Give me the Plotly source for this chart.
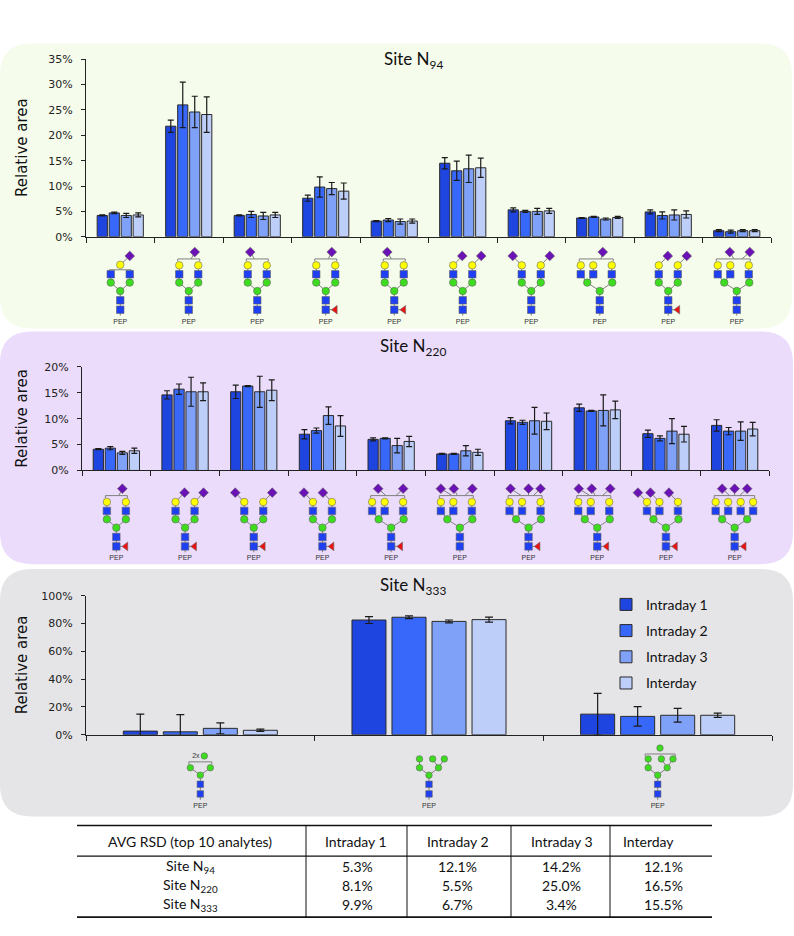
import plotly.graph_objects as go

W, H = 794, 936


def px(x):
    return x / W


def py(y):
    return 1 - y / H


SERIES = ["Intraday 1", "Intraday 2", "Intraday 3", "Interday"]
COLORS = ["#1f45e0", "#3868fa", "#7fa1f7", "#bdcff9"]

# ---- Site N94 (relative area %, mean and SD) ----
n94_i1 = [4.2, 21.8, 4.2, 7.6, 3.1, 14.5, 5.3, 3.7, 4.9, 1.2]
n94_i2 = [4.7, 26.0, 4.4, 9.8, 3.3, 13.0, 5.0, 3.9, 4.2, 1.0]
n94_i3 = [4.2, 24.6, 4.1, 9.5, 3.0, 13.4, 5.0, 3.5, 4.3, 1.2]
n94_inter = [4.3, 24.1, 4.3, 9.0, 3.1, 13.6, 5.1, 3.8, 4.4, 1.2]
n94_i1_sd = [0.1, 1.2, 0.1, 0.6, 0.1, 1.1, 0.4, 0.1, 0.4, 0.2]
n94_i2_sd = [0.15, 4.5, 0.6, 2.0, 0.3, 1.9, 0.2, 0.1, 0.7, 0.3]
n94_i3_sd = [0.4, 3.1, 0.7, 1.2, 0.5, 2.7, 0.6, 0.2, 1.0, 0.2]
n94_inter_sd = [0.4, 3.5, 0.5, 1.6, 0.4, 1.9, 0.5, 0.2, 0.7, 0.2]

# ---- Site N220 ----
n220_i1 = [4.1, 14.6, 15.2, 7.0, 6.0, 3.2, 9.6, 12.1, 7.1, 8.7]
n220_i2 = [4.3, 15.7, 16.3, 7.7, 6.2, 3.2, 9.3, 11.5, 6.2, 7.6]
n220_i3 = [3.4, 15.2, 15.2, 10.6, 4.8, 3.8, 9.6, 11.6, 7.6, 7.6]
n220_inter = [3.8, 15.2, 15.5, 8.6, 5.6, 3.5, 9.5, 11.7, 7.0, 8.0]
n220_i1_sd = [0.1, 0.8, 1.3, 0.9, 0.3, 0.1, 0.6, 0.7, 0.7, 1.1]
n220_i2_sd = [0.3, 1.0, 0.1, 0.5, 0.1, 0.1, 0.4, 0.1, 0.5, 0.7]
n220_i3_sd = [0.3, 2.8, 3.0, 1.7, 1.4, 1.0, 2.6, 3.0, 2.4, 1.8]
n220_inter_sd = [0.5, 1.7, 2.0, 2.0, 1.0, 0.6, 1.6, 1.7, 1.5, 1.3]

# ---- Site N333 ----
n333_i1 = [2.6, 82.5, 14.8]
n333_i2 = [2.1, 84.5, 13.2]
n333_i3 = [4.6, 81.5, 14.0]
n333_inter = [3.2, 82.8, 14.0]
n333_i1_sd = [12.2, 2.5, 15.0]
n333_i2_sd = [12.3, 1.0, 7.0]
n333_i3_sd = [3.9, 1.0, 5.0]
n333_inter_sd = [0.8, 1.8, 1.5]

# ---- table ----
table_header = ["AVG RSD (top 10 analytes)", "Intraday 1", "Intraday 2", "Intraday 3", "Interday"]
table_rows = ["Site N<sub>94</sub>", "Site N<sub>220</sub>", "Site N<sub>333</sub>"]
rsd_i1 = ["5.3%", "8.1%", "9.9%"]
rsd_i2 = ["12.1%", "5.5%", "6.7%"]
rsd_i3 = ["14.2%", "25.0%", "3.4%"]
rsd_inter = ["12.1%", "16.5%", "15.5%"]

# ---- glycan structures under each bar group ----
# complex: (arms, fucose, sialic mode, sialic placement)
glycans_94 = [
    (2, False, "g1", [1]), (2, False, "br", [6]), (2, False, "br", [-7]),
    (2, True, "br", [6]), (2, True, "br", [-7]), (2, False, "ind", [1, 1]),
    (2, False, "ind", [-1, 1]), (3, False, "br", [3]), (2, True, "ind", [1, 1]),
    (3, False, "br", [-7, 13]),
]
glycans_220 = [
    (2, True, "br", [6]), (2, True, "ind", [1, 1]), (2, True, "ind", [-1, 1]),
    (2, True, "ind", [-1, -1]), (3, True, "br", [-13, 12]), (3, False, "br", [-19, -6, 12.5]),
    (3, True, "br", [-18, 0, 12]), (3, True, "br", [-18.5, -5.5, 13]), (3, True, "ind", [-1, -1, -1]),
    (4, True, "br", [-12.5, 0, 12.5]),
]
glycans_333 = ["m3x", "m5", "m6"]

ARMS = {
    2: ([-9.5, 9.5], [-9.5, 9.5], [0, 1]),
    3: ([-12.5, 12.5], [-19, -6.5, 12], [0, 0, 1]),
    4: ([-12.5, 12.5], [-19, -6.5, 6, 18.5], [0, 0, 1, 1]),
}


def bracket(segs, x0, x1, y):
    segs.append([(x0, y - 2.5), (x0, y), (x1, y), (x1, y - 2.5)])


def complex_glycan(arms, fuc, mode, extra):
    nodes, segs = [], []
    segs.append([(0, -6), (0, 19)])
    nodes += [("sq", 0, 0), ("sq", 0, 9.5), ("man", 0, 19)]
    if fuc:
        segs.append([(0, 0), (9.5, 0)])
        nodes.append(("fuc", 9.5, 0))
    man_x, gn_x, par = ARMS[arms]
    for mx in man_x:
        segs.append([(0, 19), (mx, 27.5)])
        nodes.append(("man", mx, 27.5))
    for gx, p in zip(gn_x, par):
        segs.append([(man_x[p], 27.5), (gx, 36)])
        nodes.append(("sq", gx, 36))
    if mode == "g1":
        bracket(segs, gn_x[0] - 1.5, gn_x[-1] + 1.5, 40.5)
        nodes.append(("gal", 0, 45.5))
        for d in extra:
            segs.append([(0, 45.5), (9.5 * d, 54.5)])
            nodes.append(("sia", 9.5 * d, 54.5))
        return nodes, segs
    for gx in gn_x:
        segs.append([(gx, 36), (gx, 45)])
        nodes.append(("gal", gx, 45))
    if mode == "br":
        bracket(segs, gn_x[0] - 1.5, gn_x[-1] + 1.5, 51.5)
        for dx in extra:
            segs.append([(dx * 0.4, 51.5), (dx, 58.5)])
            nodes.append(("sia", dx, 58.5))
    else:
        for gx, d in zip(gn_x, extra):
            segs.append([(gx, 45), (gx + 9 * d, 54.5)])
            nodes.append(("sia", gx + 9 * d, 54.5))
    return nodes, segs


def mannose_glycan(kind):
    nodes = [("sq", 0, 0), ("sq", 0, 9.7), ("man", 0, 19)]
    segs = [[(0, -6), (0, 19)]]
    texts = []
    if kind == "m3x":
        for mx in (-10, 10):
            segs.append([(0, 19), (mx, 26.5)])
            nodes.append(("man", mx, 26.5))
        bracket(segs, -11.5, 11.5, 32.5)
        nodes.append(("man", 4, 38.5))
        texts.append(("2x", -4.5, 38.5))
        return nodes, segs, texts
    for mx in (-9.5, 9.5):
        segs.append([(0, 19), (mx, 26.5)])
        nodes.append(("man", mx, 26.5))
    segs.append([(-9.5, 26.5), (-9.5, 35.5)])
    nodes.append(("man", -9.5, 35.5))
    for tx in (3.7, 15.3):
        segs.append([(9.5, 26.5), (tx, 35.5)])
        nodes.append(("man", tx, 35.5))
    if kind == "m6":
        bracket(segs, -12.5, 17.5, 40.5)
        nodes.append(("man", 2.3, 46.5))
    return nodes, segs, texts


STYLE = {
    "sq": ("square", "#1f3ff2"),
    "man": ("circle", "#3ddc1f"),
    "gal": ("circle", "#ffff00"),
    "sia": ("diamond", "#6a12b5"),
    "fuc": ("triangle-left", "#ee1111"),
}

fig = go.Figure()

panels = [
    dict(xa="x", ya="y", ga="y4",
         vals=[n94_i1, n94_i2, n94_i3, n94_inter],
         sds=[n94_i1_sd, n94_i2_sd, n94_i3_sd, n94_inter_sd],
         glycans=glycans_94, kind="complex", cap=3, msize=7.5, legend=False),
    dict(xa="x2", ya="y2", ga="y5",
         vals=[n220_i1, n220_i2, n220_i3, n220_inter],
         sds=[n220_i1_sd, n220_i2_sd, n220_i3_sd, n220_inter_sd],
         glycans=glycans_220, kind="complex", cap=3, msize=7.5, legend=False),
    dict(xa="x3", ya="y3", ga="y6",
         vals=[n333_i1, n333_i2, n333_i3, n333_inter],
         sds=[n333_i1_sd, n333_i2_sd, n333_i3_sd, n333_inter_sd],
         glycans=glycans_333, kind="man", cap=4, msize=6.5, legend=True),
]

# axis geometry in pixels: x0, x1, y_top, y_zero, glycan top, glycan bottom, glycan row0
geo = [
    (86, 771, 54, 234, 242, 330, 308),
    (82, 769, 366, 471, 478, 568, 548),
    (86, 772, 598, 739, 746, 822, 799),
]

for p, g in zip(panels, geo):
    n = len(p["vals"][0])
    xs = list(range(n))
    for k in range(4):
        fig.add_trace(go.Bar(
            x=xs, y=p["vals"][k], name=SERIES[k], xaxis=p["xa"], yaxis=p["ya"],
            marker=dict(color=COLORS[k], line=dict(color="#2a2a2a", width=1)),
            error_y=dict(type="data", array=p["sds"][k], color="#1a1a1a", thickness=1.2, width=p["cap"]),
            showlegend=p["legend"], legendgroup=SERIES[k], hoverinfo="skip",
        ))

    # glycan cartoons
    kpx = (g[1] - g[0]) / n
    lx, ly = [], []
    nodes_by = {k: ([], []) for k in STYLE}
    tx, ty, tt = [], [], []
    for i, spec in enumerate(p["glycans"]):
        if p["kind"] == "complex":
            nodes, segs = complex_glycan(*spec)
            texts = []
        else:
            nodes, segs, texts = mannose_glycan(spec)
        for s in segs:
            for (a, b) in s:
                lx.append(i + a / kpx)
                ly.append(b)
            lx.append(None)
            ly.append(None)
        for kind, a, b in nodes:
            nodes_by[kind][0].append(i + a / kpx)
            nodes_by[kind][1].append(b)
        for t, a, b in texts:
            tx.append(i + a / kpx)
            ty.append(b)
            tt.append(t)
        tx.append(i)
        ty.append(-12.5)
        tt.append("PEP")
    fig.add_trace(go.Scatter(x=lx, y=ly, mode="lines", xaxis=p["xa"], yaxis=p["ga"],
                             line=dict(color="#808080", width=1), showlegend=False, hoverinfo="skip"))
    for kind, (nx, ny) in nodes_by.items():
        if not nx:
            continue
        sym, col = STYLE[kind]
        fig.add_trace(go.Scatter(x=nx, y=ny, mode="markers", xaxis=p["xa"], yaxis=p["ga"],
                                 marker=dict(symbol=sym, color=col, size=p["msize"],
                                             line=dict(color="#666666", width=0.6)),
                                 showlegend=False, hoverinfo="skip"))
    fig.add_trace(go.Scatter(x=tx, y=ty, mode="text", text=tt, xaxis=p["xa"], yaxis=p["ga"],
                             textfont=dict(family="Liberation Sans", size=7, color="#333333"),
                             showlegend=False, hoverinfo="skip"))

axis_common = dict(showgrid=False, zeroline=False)
yranges = [(35, 5), (20, 5), (100, 20)]
layout_axes = {}
for j, (p, g, (ymax, dt)) in enumerate(zip(panels, geo, yranges)):
    sfx = "" if j == 0 else str(j + 1)
    n = len(p["vals"][0])
    ticks = list(range(0, ymax + 1, dt))
    layout_axes["xaxis" + sfx] = dict(
        axis_common, domain=[px(g[0]), px(g[1])], range=[-0.5, n - 0.5], anchor="y" + sfx,
        showline=True, linecolor="#222222", linewidth=1, ticks="outside", ticklen=5,
        tickcolor="#222222", tickvals=[i - 0.5 for i in range(n + 1)], showticklabels=False,
    )
    layout_axes["yaxis" + sfx] = dict(
        axis_common, domain=[py(g[3]), py(g[2])], range=[0, ymax], anchor="x" + sfx,
        tickvals=ticks, ticktext=[f"{v}%" for v in ticks], showline=True,
        linecolor="#222222", linewidth=1, ticks="outside", ticklen=4, tickcolor="#222222",
        tickfont=dict(family="DejaVu Sans", size=11, color="#222222"), ticklabelstandoff=6,
    )
    layout_axes["yaxis" + str(j + 4)] = dict(
        axis_common, domain=[py(g[5]), py(g[4])], range=[g[6] - g[5], g[6] - g[4]],
        anchor="x" + sfx, visible=False,
    )


def rrect(x0, y0, x1, y1, r):
    return (f"M {px(x0 + r)},{py(y0)} L {px(x1 - r)},{py(y0)} Q {px(x1)},{py(y0)} {px(x1)},{py(y0 + r)} "
            f"L {px(x1)},{py(y1 - r)} Q {px(x1)},{py(y1)} {px(x1 - r)},{py(y1)} "
            f"L {px(x0 + r)},{py(y1)} Q {px(x0)},{py(y1)} {px(x0)},{py(y1 - r)} "
            f"L {px(x0)},{py(y0 + r)} Q {px(x0)},{py(y0)} {px(x0 + r)},{py(y0)} Z")


shapes = []
for box, col in [((0, 38, 792, 327), "#f6fcec"), ((0, 330, 793, 566), "#ebdcfb"), ((0, 571, 793, 822), "#e5e5e8")]:
    shapes.append(dict(type="path", path=rrect(*box, 32), xref="paper", yref="paper",
                       fillcolor=col, line=dict(width=0), layer="below"))

# table rules
for y, w in [(831, 1.6), (862, 1.2), (924, 1.6)]:
    shapes.append(dict(type="line", xref="paper", yref="paper", x0=px(77), x1=px(712), y0=py(y), y1=py(y),
                       line=dict(color="#111111", width=w)))
for x in [306, 407, 511, 610]:
    shapes.append(dict(type="line", xref="paper", yref="paper", x0=px(x), x1=px(x), y0=py(831), y1=py(924),
                       line=dict(color="#111111", width=1)))


def label(text, x, y, size, family="Lato", angle=0):
    return dict(text=text, x=px(x), y=py(y), xref="paper", yref="paper", showarrow=False,
                xanchor="center", yanchor="middle", textangle=angle,
                font=dict(family=family, size=size, color="#111111"))


ann = []
for title, y in [("Site N<sub>94</sub>", 55), ("Site N<sub>220</sub>", 346), ("Site N<sub>333</sub>", 588)]:
    ann.append(label(title, 413, y, 17))
for g in geo:
    ann.append(label("Relative area", 22, (g[2] + g[3]) / 2, 15, "DejaVu Sans", -90))

col_x = [190, 356, 458, 562, 648]
val_x = [190, 357, 458, 561, 663]
for c, h in enumerate(table_header):
    ann.append(label(h, col_x[c], 847, 14))
for r, y in enumerate([873, 892, 911]):
    cells = [table_rows[r], rsd_i1[r], rsd_i2[r], rsd_i3[r], rsd_inter[r]]
    for c, t in enumerate(cells):
        ann.append(label(t, val_x[c], y, 14))

fig.update_layout(
    width=W, height=H, margin=dict(l=0, r=0, t=0, b=0),
    paper_bgcolor="white", plot_bgcolor="rgba(0,0,0,0)",
    barmode="group", bargap=0.3, bargroupgap=0.15,
    shapes=shapes, annotations=ann,
    legend=dict(x=px(606), y=py(591), xanchor="left", yanchor="top", bgcolor="rgba(0,0,0,0)",
                traceorder="grouped", tracegroupgap=5,
                font=dict(family="Lato", size=14, color="#111111")),
    **layout_axes,
)

fig.write_html(
    "out.html", config={"displayModeBar": False},
    post_script=("var d=document.getElementById('{plot_id}');"
                 "d.style.position='absolute';d.style.top='0px';d.style.left='0px';"
                 "document.body.style.margin='0px';document.body.style.overflow='hidden';"),
)
